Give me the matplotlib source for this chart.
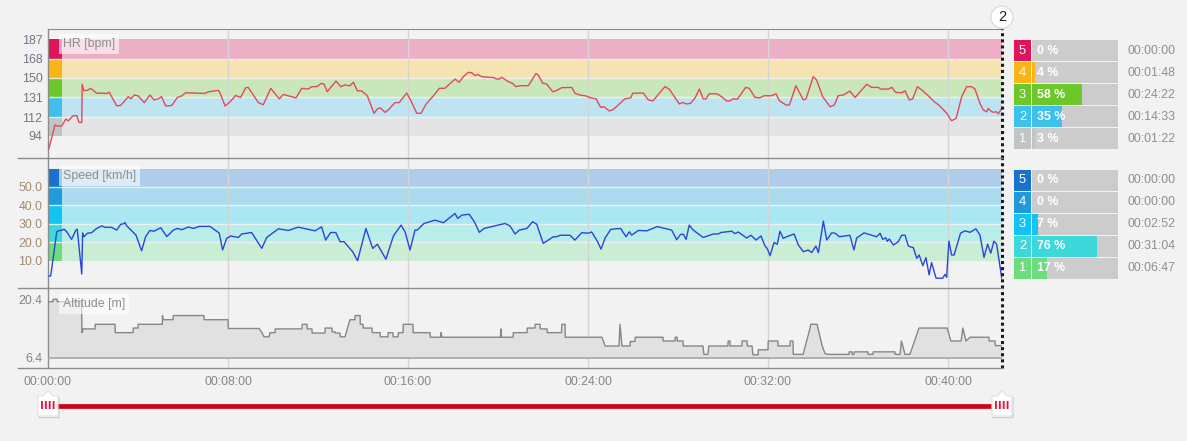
import matplotlib
matplotlib.use('Agg')
import matplotlib.pyplot as plt
from matplotlib.path import Path
from matplotlib.lines import Line2D
import matplotlib.patheffects as pe

plt.rcParams['font.family'] = ['Liberation Sans', 'DejaVu Sans']

# ---------------- data ----------------
t_end = 42.4  # minutes

hr_t = [0.04, 0.31, 0.39, 0.61, 0.79, 0.90, 1.12, 1.28, 1.38, 1.50, 1.52, 1.60, 1.75, 1.90, 2.16, 2.46, 2.61, 2.72,
        3.05, 3.23, 3.57, 3.68, 3.84, 4.01, 4.28, 4.53, 4.71, 4.90, 5.05, 5.23, 5.50, 5.75, 5.94, 6.12, 6.98, 7.12,
        7.57, 7.64, 7.87, 8.09, 8.34, 8.56, 8.79, 8.90, 9.35, 9.57, 9.90, 10.28, 10.46, 11.02, 11.28, 11.57, 11.72,
        11.94, 12.16, 12.27, 12.41, 12.80, 13.01, 13.20, 13.42, 13.57, 13.75, 13.94, 14.19, 14.49, 14.64, 14.76,
        14.98, 15.12, 15.42, 15.61, 15.76, 15.94, 16.13, 16.39, 16.58, 16.80, 17.16, 17.39, 17.64, 18.09, 18.27,
        18.46, 18.68, 18.83, 18.98, 19.08, 19.28, 19.79, 19.94, 20.06, 20.16, 20.46, 20.64, 20.79, 20.98, 21.35,
        21.69, 21.79, 21.99, 22.16, 22.43, 22.58, 22.83, 23.28, 23.42, 23.64, 23.91, 24.12, 24.36, 24.56, 24.71,
        24.95, 25.12, 25.64, 25.90, 25.99, 26.46, 26.68, 26.88, 27.42, 27.61, 27.79, 28.06, 28.21, 28.36, 28.56,
        28.76, 28.95, 29.12, 29.24, 29.39, 29.72, 29.94, 30.16, 30.31, 30.43, 30.64, 31.01, 31.17, 31.42, 31.64,
        31.82, 32.16, 32.36, 32.50, 32.80, 32.95, 33.24, 33.57, 33.69, 34.01, 34.16, 34.43, 34.76, 34.95, 35.12,
        35.35, 35.64, 35.87, 36.39, 36.61, 36.90, 37.01, 37.35, 37.50, 37.68, 37.94, 38.09, 38.28, 38.43, 38.64,
        38.88, 39.12, 39.35, 39.64, 39.94, 40.16, 40.36, 40.61, 40.83, 41.05, 41.20, 41.42, 41.57, 41.72, 41.79,
        41.90, 42.01, 42.16, 42.23, 42.39]
hr_v = [82, 104.6, 103.6, 103.6, 110.3, 108.5, 113.5, 113.5, 107, 107, 143.6, 137.4, 137.8, 139.7, 135, 135, 134.7, 136,
        123, 123.3, 131.7, 129.6, 133.3, 132.4, 126, 133.3, 128.6, 129.6, 131.7, 122.8, 123.2, 131, 132.4, 135.5, 134.8,
        136.3, 137.8, 135.5, 122.8, 126.7, 132.9, 131, 140.3, 140.6, 126, 124, 139.7, 129.6, 133.8, 130.6, 139.7, 139,
        141.3, 141.3, 144.5, 143.6, 136.5, 146.7, 141.3, 142.9, 142.2, 145.5, 137.4, 137.2, 132.6, 115.8, 119.9, 121.1,
        116.7, 118.9, 126, 126, 130.2, 135.2, 127.9, 115.8, 115.8, 124.4, 133.3, 139.7, 139.7, 148.6, 145.5,
        150.9, 155, 154.7, 151.8, 153, 150.9, 150, 148.6, 148.6, 150.3, 146.1, 144.5, 141.3, 142.2, 142.2,
        154, 152.4, 144.5, 143.9, 136.5, 137.4, 140.3, 140.6, 135, 133.3, 132.4, 130.6, 129.6, 121.5, 122,
        118, 119.3, 129.6, 130.6, 135, 135.2, 128.6, 127.6, 141.3, 139, 133.3, 124.7, 126.3, 124.7, 125.3,
        130.6, 139, 129.6, 129.6, 134.5, 134.5, 131.7, 127.6, 127.6, 129.6, 129.3, 140.6, 139.7, 131, 130.6,
        132.6, 132.6, 134.5, 127.9, 123.7, 123.7, 142.2, 128.6, 129.6, 150.9, 147.7, 131.7, 122.1, 123.7, 132.6,
        133.3, 137, 131, 143.6, 140.6, 140.6, 139, 139, 140.6, 135.8, 135.5, 137.4, 128.6, 129.6, 141.3,
        137.4, 132.6, 127.6, 122.8, 115.8, 108.7, 110.9, 131.7, 141.3, 141.3, 139, 125.3, 118.9, 117.3, 120.5,
        118, 116.7, 117.3, 115.1, 120.5]

sp_t = [0.04, 0.12, 0.39, 0.46, 0.64, 0.71, 0.83, 1.05, 1.24, 1.30, 1.50, 1.54, 1.60, 1.75, 1.94, 2.16, 2.39, 2.53,
        2.83, 3.05, 3.23, 3.38, 3.42, 3.50, 3.91, 4.16, 4.34, 4.53, 4.71, 5.01, 5.28, 5.57, 5.75, 5.94, 6.24, 6.46,
        6.72, 7.20, 7.61, 7.76, 7.94, 8.12, 8.46, 8.61, 9.05, 9.50, 9.72, 10.24, 10.68, 11.12, 11.87, 12.16, 12.34,
        12.56, 12.79, 12.98, 13.16, 13.54, 13.76, 14.13, 14.43, 14.64, 15.02, 15.35, 15.69, 15.87, 16.09, 16.31,
        16.41, 16.71, 17.20, 17.57, 18.09, 18.21, 18.39, 18.72, 18.95, 19.17, 19.38, 20.31, 20.53, 20.76, 20.95,
        21.28, 21.54, 21.72, 22.01, 22.46, 22.61, 22.76, 23.20, 23.42, 23.72, 24.01, 24.16, 24.41, 24.58, 24.76,
        25.01, 25.45, 25.69, 25.84, 25.94, 26.24, 26.61, 27.08, 27.72, 27.94, 28.12, 28.24, 28.36, 28.50, 28.68,
        29.12, 29.57, 29.79, 29.91, 30.39, 30.53, 30.68, 31.05, 31.24, 31.47, 31.69, 31.87, 31.97, 32.09, 32.27,
        32.41, 32.53, 32.68, 32.83, 33.16, 33.35, 33.57, 33.79, 33.94, 34.13, 34.24, 34.46, 34.61, 34.83, 34.98,
        35.17, 35.64, 35.82, 35.94, 36.27, 36.83, 36.98, 37.10, 37.24, 37.30, 37.39, 37.57, 37.79, 37.94, 38.09,
        38.24, 38.46, 38.61, 38.72, 38.88, 39.02, 39.16, 39.27, 39.47, 39.76, 39.87, 39.94, 40.04, 40.16, 40.27,
        40.56, 40.76, 40.98, 41.24, 41.42, 41.60, 41.76, 41.90, 42.04, 42.16, 42.39]
sp_v = [1.7, 1.7, 25.7, 26.2, 26.6, 27.1, 25.7, 21.6, 26.6, 27.1, 2.8, 25.1, 23, 24.9, 25.2, 27.5, 28.9, 28.1,
        28.1, 26.6, 29.7, 30.1, 30.7, 28.9, 23.9, 15.4, 23.1, 26.4, 26, 27.9, 23.1, 26.6, 27.5, 26.8, 28.3, 27.5,
        28.6, 28.6, 25, 15.8, 22.1, 23.4, 22.6, 24.5, 25.3, 16.7, 22.6, 27.3, 26.4, 28.2, 26.2, 28.4, 21.2,
        25.3, 25.3, 20.3, 20.3, 14.9, 10, 27.5, 16.7, 18.9, 10.8, 23.4, 29.3, 25.7, 15.8, 26.6,
        26.6, 30.2, 32, 30.6, 35.6, 32.9, 34.7, 35.2, 31.1, 25.4, 27.5, 30.2, 28.9, 24.5, 26.6,
        27.5, 31.1, 29.8, 19.4, 23, 23, 23.8, 23.8, 21.2, 25.2, 24.9, 25.6, 20.7, 16.3, 22.3,
        27, 27.5, 23, 25.7, 23.9, 26.4, 26.2, 28.5, 26.6, 21.4, 24.3, 24.3, 21.6, 29.3, 26.6,
        22.6, 24.5, 24.5, 25.3, 26, 24.7, 25.6, 22.3, 23.8, 21.2, 23.4, 17.9, 16.5, 12.7, 19.9,
        18.9, 26, 22.1, 23, 24.5, 18.5, 14.9, 15.8, 14.4, 17.9, 14.4, 31.5, 21.2, 25.1, 24.9,
        23, 23.8, 15.8, 22.3, 25.1, 23, 24.9, 21.6, 22.4, 20.5, 21.8, 18.5, 20.3, 23.8, 23.8,
        17.9, 17.1, 11.3, 13.1, 7.3, 11.7, 2.3, 9, 0.5, 0.5, 2.6, 1, 20.6, 13.1, 13.1,
        25, 26.2, 25.4, 27.3, 23.9, 11.8, 19, 14.1, 20.6, 19, 0.5]

alt_t = [0.04, 0.22, 0.23, 0.40, 0.41, 1.49, 1.51, 1.56, 2.09, 2.10, 2.98, 2.99, 3.78, 3.79, 4.00, 4.01, 5.08, 5.09,
         5.11, 5.56, 5.57, 6.93, 6.94, 8.00, 8.01, 9.38, 9.51, 9.60, 9.82, 9.87, 10.09, 10.10, 11.29, 11.30, 11.51,
         11.52, 11.73, 11.74, 12.31, 12.32, 12.62, 12.63, 12.76, 12.77, 12.98, 12.99, 13.20, 13.42, 13.64, 13.65,
         13.87, 13.88, 14.00, 14.01, 14.40, 14.41, 14.76, 14.77, 15.11, 15.12, 15.33, 15.34, 15.56, 15.57, 15.78,
         15.79, 16.22, 16.23, 16.98, 16.99, 17.45, 17.47, 17.51, 20.11, 20.13, 20.16, 20.67, 20.68, 21.29, 21.30,
         21.64, 21.65, 21.87, 21.88, 22.18, 22.19, 22.82, 22.84, 22.98, 22.99, 24.62, 24.76, 25.38, 25.42, 25.51,
         25.87, 25.88, 26.09, 26.10, 27.33, 27.34, 27.87, 27.88, 27.96, 27.97, 28.22, 28.23, 29.11, 29.15, 29.33,
         29.37, 30.22, 30.23, 30.31, 30.32, 30.84, 30.85, 31.07, 31.08, 31.29, 31.33, 31.56, 31.57, 32.00, 32.01,
         32.44, 32.45, 32.98, 32.99, 33.11, 33.12, 33.56, 33.87, 33.90, 34.18, 34.40, 34.53, 34.67, 35.60, 35.61,
         35.73, 35.74, 35.82, 35.83, 36.44, 36.45, 36.67, 36.68, 37.64, 37.65, 37.87, 37.93, 38.09, 38.31, 38.71,
         39.96, 40.13, 40.58, 40.66, 40.80, 40.98, 41.82, 41.83, 42.09, 42.10, 42.40]
alt_v = [19.8, 19.8, 20.4, 20.4, 19.8, 19.8, 12.4, 13.3, 13.3, 14.4, 14.4, 12.4, 12.4, 13.5, 13.5, 14.4, 14.4, 16.5,
         15.5, 15.5, 16.5, 16.5, 15.5, 15.5, 13.4, 13.4, 12.4, 11.4, 11.4, 12.4, 12.4, 13.3, 13.3, 14.4, 14.4,
         13.3, 13.3, 12.3, 12.3, 13.5, 13.5, 12.6, 12.6, 12.3, 12.3, 11.4, 11.4, 15.5, 15.5, 16.5,
         16.5, 14.4, 14.4, 13.5, 13.5, 12.4, 12.4, 11.4, 11.4, 12.4, 12.4, 11.4, 11.4, 12.4, 12.4,
         14.4, 14.4, 12.4, 12.4, 11.3, 11.3, 12.4, 11.3, 11.3, 13.3, 11.3, 11.3, 12.4, 12.4, 13.5,
         13.5, 14.4, 14.4, 13.3, 13.3, 12.4, 12.4, 14.4, 14.4, 11.3, 11.3, 9.2, 9.2, 14.4, 9.2,
         9.2, 10.3, 10.3, 11.3, 11.3, 10.4, 10.4, 11.3, 11.3, 10.4, 10.4, 9.2, 9.2, 7.2, 7.2,
         9.2, 9.2, 10.4, 10.4, 9.2, 9.2, 10.4, 10.4, 9.2, 9.2, 7.1, 7.1, 8.3, 8.3, 10.4,
         10.4, 9.2, 9.2, 10.4, 10.4, 7.2, 7.2, 13.5, 14.4, 14.4, 9.4, 7.4, 7.2, 7.2, 7.8,
         7.8, 7.2, 7.2, 7.8, 7.8, 7.2, 7.2, 7.8, 7.8, 7.2, 7.2, 10.4, 7.2, 7.2, 13.5,
         13.5, 10.4, 10.4, 13.5, 10.4, 11.3, 11.3, 10.4, 10.4, 9.3, 9.3]

hr_zone_bounds = [94, 112, 131, 150, 168, 187]
hr_zone_names = ['1', '2', '3', '4', '5']
hr_zone_pct = [3, 35, 58, 4, 0]
hr_zone_time = ['00:01:22', '00:14:33', '00:24:22', '00:01:48', '00:00:00']

sp_zone_bounds = [10, 20, 30, 40, 50, 60]
sp_zone_names = ['1', '2', '3', '4', '5']
sp_zone_pct = [17, 76, 7, 0, 0]
sp_zone_time = ['00:06:47', '00:31:04', '00:02:52', '00:00:00', '00:00:00']

hr_ticks = [94, 112, 131, 150, 168, 187]
sp_ticks = [10, 20, 30, 40, 50]
alt_ticks = [6.4, 20.4]
x_ticks = [0, 8, 16, 24, 32, 40]
x_tick_labels = ['00:00:00', '00:08:00', '00:16:00', '00:24:00', '00:32:00', '00:40:00']

# ---------------- style ----------------
BG = '#F2F2F2'
hr_zone_col = ['#BFC5C5', '#3DC0EB', '#6CC72A', '#FBB417', '#E0135C']
hr_band_col = ['#E4E4E4', '#BEE4F1', '#C9E7B9', '#F6E3B2', '#EDAFC6']
sp_zone_col = ['#6CDC7C', '#3DD8DA', '#12C4F3', '#1F9ADB', '#1A72CF']
sp_band_col = ['#CAEDD3', '#B8EDE9', '#AAE7F3', '#ACDBEF', '#AFCDEB']
FRAME = '#8C8C8C'
FS = 8.9

W, H = 1187, 441
fig = plt.figure(figsize=(W / 100, H / 100), dpi=100, facecolor=BG)


def fx(px):
    return px / W


def fy(py):
    return 1 - py / H


L, R = 48, 1002
ax_hr = fig.add_axes([fx(L), fy(158), fx(R) - fx(L), fy(29) - fy(158)])
ax_sp = fig.add_axes([fx(L), fy(288), fx(R) - fx(L), fy(158) - fy(288)])
ax_al = fig.add_axes([fx(L), fy(368), fx(R) - fx(L), fy(288) - fy(368)])

for ax in (ax_hr, ax_sp, ax_al):
    ax.set_facecolor(BG)
    ax.set_xlim(0, t_end)
    for s in ('right', 'bottom', 'top'):
        ax.spines[s].set_visible(False)
    ax.spines['left'].set_color(FRAME)
    ax.spines['left'].set_linewidth(1)
    ax.tick_params(axis='both', length=0, labelsize=FS, pad=4)
    for t in x_ticks[1:]:
        ax.axvline(t, color='#D4D4D4', lw=1, zorder=1.6)
    ax.axvline(t_end, color='#1a1a1a', lw=2.2, ls=(0, (1, 1)), zorder=6, clip_on=False)
    ax.set_xticks([])

ax_hr.spines['top'].set_visible(True)
ax_hr.spines['top'].set_color(FRAME)

# separators across full width
for py in (158, 288, 368):
    fig.add_artist(Line2D([fx(18), fx(R)], [fy(py), fy(py)], color=FRAME, lw=1))

sq_w = 0.62  # width of colored zone marker at left


def draw_zones(ax, bounds, band_cols, zone_cols):
    for i in range(len(bounds) - 1):
        lo, hi = bounds[i], bounds[i + 1]
        ax.axhspan(lo, hi, color=band_cols[i], lw=0, zorder=1)
        ax.fill_between([0, sq_w], lo, hi, color=zone_cols[i], lw=0, zorder=1.2)
    for b in bounds[1:-1]:
        ax.axhline(b, color='#F4F4F4', lw=1.0, alpha=0.85, zorder=1.4)


# HR panel
draw_zones(ax_hr, hr_zone_bounds, hr_band_col, hr_zone_col)
ax_hr.plot(hr_t, hr_v, color='#E04A5E', lw=1.0, zorder=3)
ax_hr.set_ylim(72.9, 196.6)
ax_hr.set_yticks(hr_ticks)
ax_hr.set_yticklabels([str(v) for v in hr_ticks], color='#6F7785')

# Speed panel
draw_zones(ax_sp, sp_zone_bounds, sp_band_col, sp_zone_col)
ax_sp.plot(sp_t, sp_v, color='#2A46D8', lw=1.0, zorder=3)
ax_sp.set_ylim(-4.8, 65.7)
ax_sp.set_yticks(sp_ticks)
ax_sp.set_yticklabels(['%.1f' % v for v in sp_ticks], color='#A38B6E')

# Altitude panel
ax_al.fill_between(alt_t, alt_v, alt_ticks[0], color='#E1E1E1', lw=0, zorder=2)
ax_al.plot(alt_t, alt_v, color='#868686', lw=1.0, zorder=3)
ax_al.axhline(alt_ticks[0], color='#ABABAB', lw=1.3, zorder=3)
ax_al.set_ylim(3.93, 23.1)
ax_al.set_yticks(alt_ticks)
ax_al.set_yticklabels(['%.1f' % v for v in alt_ticks], color='#878580')
ax_al.set_xticks(x_ticks)
ax_al.set_xticklabels(x_tick_labels, color='#8A8782')
ax_al.tick_params(axis='x', pad=6)

# panel labels
lab_x = (63 - L) / (R - L)
lab_kw = dict(fontsize=FS, color='#8E8E8E', va='center', ha='left', zorder=7,
              bbox=dict(boxstyle='square,pad=0.3', fc='white', ec='none', alpha=0.6))
ax_hr.text(lab_x, (158 - 44) / 129, 'HR [bpm]', transform=ax_hr.transAxes, **lab_kw)
ax_sp.text(lab_x, (288 - 176) / 130, 'Speed [km/h]', transform=ax_sp.transAxes, **lab_kw)
ax_al.text(lab_x, (368 - 304) / 80, 'Altitude [m]', transform=ax_al.transAxes, **lab_kw)

# cursor marker "2"
ax_hr.annotate('2', xy=(t_end, 1), xycoords=('data', 'axes fraction'), xytext=(0, 8.5),
               textcoords='offset points', ha='center', va='center', fontsize=10.5, color='#222222',
               zorder=8, annotation_clip=False,
               bbox=dict(boxstyle='circle,pad=0.28', fc='white', ec='#DDDDDD', lw=1))


# zone legends
def zone_legend(top_px, bottom_px, names, pct, times, zone_cols):
    x0, x1 = 1014, 1118
    ax = fig.add_axes([fx(x0), fy(bottom_px), fx(x1) - fx(x0), fy(top_px) - fy(bottom_px)])
    ax.set_xlim(-20.9, 100)
    ax.set_ylim(-0.5, len(names) - 0.5)
    ax.axis('off')
    h = 21 / 22
    ys = list(range(len(names)))
    ax.barh(ys, [100] * len(ys), left=0, height=h, color='#CCCCCC', lw=0)
    ax.barh(ys, pct, left=0, height=h, color=zone_cols, lw=0)
    ax.barh(ys, [19.7] * len(ys), left=-20.9, height=h, color=zone_cols, lw=0)
    for y, n, p, tt in zip(ys, names, pct, times):
        ax.text(-11.0, y, n, color='white', ha='center', va='center', fontsize=FS + 0.4)
        ax.text(5.5, y, '%d %%' % p, color='white', ha='left', va='center', fontsize=FS, fontweight='bold')
        ax.text(111.6, y, tt, color='#8F8F8F', ha='left', va='center', fontsize=FS, clip_on=False)


zone_legend(39.5, 149.5, hr_zone_names, hr_zone_pct, hr_zone_time, hr_zone_col)
zone_legend(169.5, 279.0, sp_zone_names, sp_zone_pct, sp_zone_time, sp_zone_col)

# range slider
ax_sl = fig.add_axes([fx(L), fy(420), fx(R) - fx(L), fy(392) - fy(420)])
ax_sl.set_xlim(0, t_end)
ax_sl.set_ylim(-1, 1)
ax_sl.axis('off')
ax_sl.plot([0, t_end], [0, 0], color='#D0021B', lw=3.4, solid_capstyle='butt', zorder=1)
handle = Path([(-10, -10), (10, -10), (10, 10), (5, 10), (0, 15), (-5, 10), (-10, 10), (-10, -10)],
              [Path.MOVETO] + [Path.LINETO] * 6 + [Path.CLOSEPOLY])
for t in (0, t_end):
    ax_sl.plot([t], [0], marker=handle, markersize=21.6, markerfacecolor='white', markeredgecolor='#E2E2E2',
               markeredgewidth=0.8, zorder=3, clip_on=False,
               path_effects=[pe.SimpleLineShadow(offset=(0.8, -1.2), shadow_color='#888888', alpha=0.35),
                             pe.Normal()])
    ax_sl.text(t, 0, 'IIII', color='#E8143C', fontsize=7.5, fontweight='bold', ha='center', va='center',
               zorder=4, family='DejaVu Sans')

fig.savefig('out.png', dpi=100, facecolor=BG)
